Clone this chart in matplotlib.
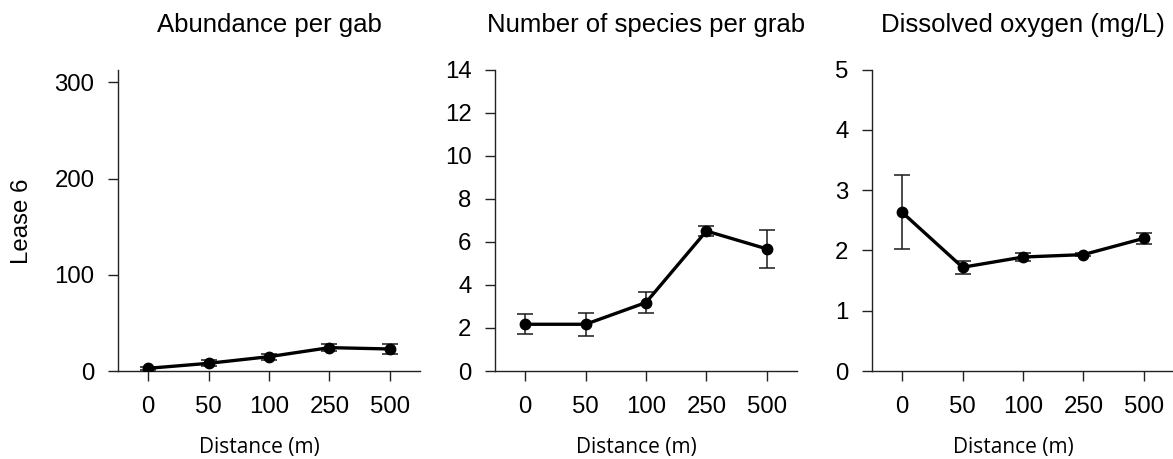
import matplotlib
matplotlib.use("Agg")
import matplotlib.pyplot as plt

distances = ["0", "50", "100", "250", "500"]

titles = ["Abundance per gab", "Number of species per grab", "Dissolved oxygen (mg/L)"]

abundance_mean = [2.8, 8.0, 14.9, 24.3, 22.9]
abundance_err = [1.5, 3.0, 3.0, 3.5, 5.0]

species_mean = [2.17, 2.17, 3.18, 6.5, 5.67]
species_err = [0.47, 0.54, 0.47, 0.21, 0.88]

oxygen_mean = [2.63, 1.72, 1.89, 1.93, 2.20]
oxygen_err = [0.615, 0.11, 0.07, 0.03, 0.095]

ylims = [(0, 313.5), (0, 14), (0, 5)]
yticks = [[0, 100, 200, 300], [0, 2, 4, 6, 8, 10, 12, 14], [0, 1, 2, 3, 4, 5]]

W, H = 1173, 459
fig = plt.figure(figsize=(W / 100, H / 100), dpi=100)

lefts = [118, 495, 872]
width = 302
top, bottom = 69.5, 371

means = [abundance_mean, species_mean, oxygen_mean]
errs = [abundance_err, species_err, oxygen_err]

tick_font = "Liberation Sans"
label_font = ["Open Sans", "DejaVu Sans"]

for i in range(3):
    ax = fig.add_axes([lefts[i] / W, 1 - bottom / H, width / W, (bottom - top) / H])
    x = list(range(len(distances)))
    ax.errorbar(x, means[i], yerr=errs[i], color="black", lw=2.4, marker="o",
                markersize=7.5, ecolor="#1a1a1a", elinewidth=1.1, capsize=5.8,
                capthick=1.1, zorder=3)
    ax.set_xlim(-0.5, 4.5)
    ax.set_ylim(*ylims[i])
    ax.set_yticks(yticks[i])
    ax.set_xticks(x)
    ax.set_xticklabels(distances)
    for s in ["top", "right"]:
        ax.spines[s].set_visible(False)
    for s in ["left", "bottom"]:
        ax.spines[s].set_linewidth(1.0)
        ax.spines[s].set_color("#222222")
    ax.tick_params(axis="both", direction="out", length=7, width=1.0, color="#222222",
                   labelsize=17.3)
    ax.tick_params(axis="y", pad=10)
    ax.tick_params(axis="x", pad=11)
    for lab in ax.get_xticklabels() + ax.get_yticklabels():
        lab.set_fontfamily(tick_font)
    cx = (lefts[i] + width / 2) / W
    fig.text(cx - 10 / W, 1 - 453 / H, "Distance (m)", ha="center", va="baseline",
             fontsize=15, family=label_font)
    fig.text(cx, 1 - 32 / H, titles[i], ha="center", va="baseline",
             fontsize=18.5, family=tick_font)

fig.text(22 / W, 1 - 221 / H, "Lease 6", rotation=90, ha="center", va="center",
         fontsize=17.3, family=tick_font)

fig.savefig("out.png", dpi=100)
